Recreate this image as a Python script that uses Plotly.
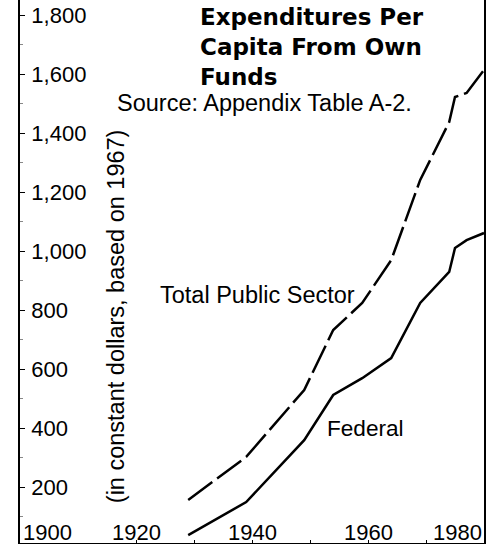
import plotly.graph_objects as go

# values (per capita, constant 1967 dollars)
years = [1929, 1939, 1949, 1954, 1959, 1964, 1969, 1974, 1975, 1977, 1980]
total_public = [156, 302, 529, 732, 824, 969, 1241, 1437, 1522, 1536, 1614]
federal = [37, 149, 359, 512, 569, 637, 824, 929, 1010, 1037, 1061]

y_ticks = [200, 400, 600, 800, 1000, 1200, 1400, 1600, 1800]
y_tick_text = ["200", "400", "600", "800", "1,000", "1,200", "1,400", "1,600", "1,800"]
x_label_years = [1900, 1920, 1940, 1960, 1980]

REG = "Liberation Sans, Arial, sans-serif"
BOLD = "DejaVu Sans, sans-serif"

fig = go.Figure()
fig.add_trace(go.Scatter(
    x=years, y=total_public, mode="lines",
    line=dict(color="black", width=2.5, dash="30px,6px"),
))
fig.add_trace(go.Scatter(
    x=years, y=federal, mode="lines",
    line=dict(color="black", width=2.5),
))

fig.update_xaxes(
    range=[1900, 1980], showgrid=False, zeroline=False,
    showline=True, linecolor="black", linewidth=1,
    ticks="inside", ticklen=3, tickcolor="black", dtick=10, tick0=1900,
    showticklabels=False,
)
fig.update_yaxes(
    range=[10.2, 1851], showgrid=False, zeroline=False,
    showline=True, linecolor="black", linewidth=1.5, mirror=True,
    ticks="inside", ticklen=5, tickcolor="black",
    tickvals=y_ticks, ticktext=y_tick_text,
    ticklabelposition="inside", ticklabelstandoff=8,
    tickfont=dict(family=REG, size=22, color="black"),
    minor=dict(dtick=100, ticks="inside", ticklen=3, tickcolor="#888"),
)

# x tick labels sit inside the plot, just above the axis
anchors = {1900: "left", 1980: "right"}
for yr in x_label_years:
    fig.add_annotation(
        x=yr + (0.2 if yr == 1900 else 0), y=46, text=str(yr),
        showarrow=False, xanchor=anchors.get(yr, "center"), yanchor="middle",
        font=dict(family=REG, size=22, color="black"),
    )

fig.add_annotation(
    x=1930.7, y=1692, text="Expenditures Per<br>Capita From Own<br>Funds",
    showarrow=False, xanchor="left", yanchor="middle", align="left",
    font=dict(family=BOLD, size=23, color="black", weight="bold"),
)
fig.add_annotation(
    x=1916.4, y=1502, text="Source: Appendix Table A-2.",
    showarrow=False, xanchor="left", yanchor="middle",
    font=dict(family=REG, size=23.5, color="black"),
)
fig.add_annotation(
    x=1916.6, y=780, text="(in constant dollars, based on 1967)",
    textangle=-90, showarrow=False, xanchor="center", yanchor="middle",
    font=dict(family=REG, size=23.5, color="black"),
)
fig.add_annotation(
    x=1923.8, y=851, text="Total Public Sector",
    showarrow=False, xanchor="left", yanchor="middle",
    font=dict(family=REG, size=23.5, color="black"),
)
fig.add_annotation(
    x=1952.6, y=397, text="Federal",
    showarrow=False, xanchor="left", yanchor="middle",
    font=dict(family=REG, size=22.6, color="black"),
)

fig.update_layout(
    width=492, height=546,
    margin=dict(l=20, r=8, t=0, b=3),
    plot_bgcolor="white", paper_bgcolor="white",
    showlegend=False,
)

# drop the browser's default body margin so the figure fills the window
fig.write_html(
    "out.html",
    config={"displayModeBar": False},
    post_script="document.body.style.margin='0';",
)
